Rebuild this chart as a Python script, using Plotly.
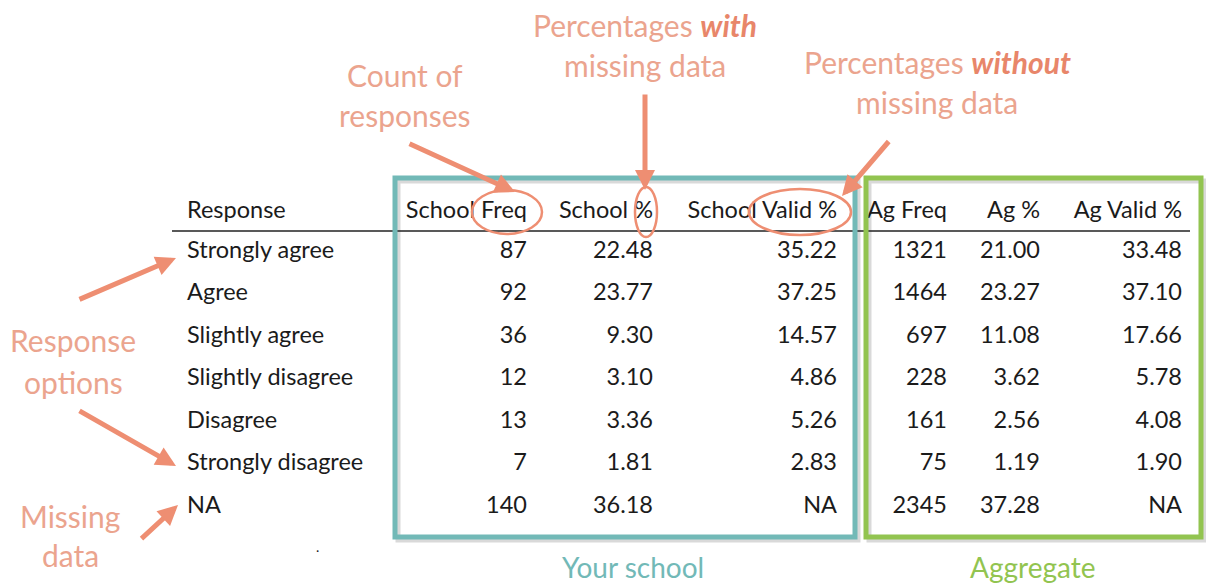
import plotly.graph_objects as go

responses = ["Strongly agree", "Agree", "Slightly agree", "Slightly disagree",
             "Disagree", "Strongly disagree", "NA"]
school_freq = [87, 92, 36, 12, 13, 7, 140]
school_pct = [22.48, 23.77, 9.30, 3.10, 3.36, 1.81, 36.18]
school_valid = [35.22, 37.25, 14.57, 4.86, 5.26, 2.83, None]
ag_freq = [1321, 1464, 697, 228, 161, 75, 2345]
ag_pct = [21.00, 23.27, 11.08, 3.62, 2.56, 1.19, 37.28]
ag_valid = [33.48, 37.10, 17.66, 5.78, 4.08, 1.90, None]
headers = ["School Freq", "School %", "School Valid %", "Ag Freq", "Ag %", "Ag Valid %"]

W, H = 1206, 584
SALMON = "#ee8e72"
SALMON_TXT = "#eba48e"
TEAL = "#72b9b7"
GREEN = "#92c450"
INK = "#1b1b1b"
FONT = "Lato"
TSIZE = 23.5

# pixel layout (page coordinates)
row_y = [252 + 42.5 * i for i in range(len(responses))]
header_y = 212
label_x = 187
col_right = [527, 653, 837, 947, 1040, 1182]


def fmt(v, dec):
    if v is None:
        return "NA"
    return f"{v:.{dec}f}" if dec else str(v)


columns = [
    [fmt(v, 0) for v in school_freq],
    [fmt(v, 2) for v in school_pct],
    [fmt(v, 2) for v in school_valid],
    [fmt(v, 0) for v in ag_freq],
    [fmt(v, 2) for v in ag_pct],
    [fmt(v, 2) for v in ag_valid],
]

fig = go.Figure()

# row labels + header
fig.add_trace(go.Scatter(
    x=[label_x] * (len(responses) + 1), y=[header_y] + row_y,
    text=["Response"] + responses, mode="text", textposition="middle right",
    textfont=dict(family=FONT, size=TSIZE, color=INK), hoverinfo="skip"))

# numeric columns, right aligned
for cx, hdr, vals in zip(col_right, headers, columns):
    fig.add_trace(go.Scatter(
        x=[cx] * (len(vals) + 1), y=[header_y] + row_y,
        text=[hdr] + vals, mode="text", textposition="middle left",
        textfont=dict(family=FONT, size=TSIZE, color=INK), hoverinfo="skip"))

shapes = []
# header underline
shapes.append(dict(type="line", x0=172, x1=1190, y0=231, y1=231,
                   line=dict(color="#222", width=1.3)))
# group boxes with soft shadow
for (x0, x1), col in [((395, 855), TEAL), ((866, 1201), GREEN)]:
    shapes.append(dict(type="rect", x0=x0 + 3, x1=x1 + 3, y0=181, y1=540,
                       line=dict(color="rgba(0,0,0,0.15)", width=5), layer="below"))
    shapes.append(dict(type="rect", x0=x0, x1=x1, y0=178, y1=537,
                       line=dict(color=col, width=5)))
# ellipses around headers
for cx, cy, rx, ry in [(507, 212, 35, 22), (646, 212, 11, 25), (800, 212, 51, 23)]:
    shapes.append(dict(type="circle", x0=cx - rx, x1=cx + rx, y0=cy - ry, y1=cy + ry,
                       line=dict(color=SALMON, width=2.5)))

anns = []


def label(x, y, txt, color=SALMON_TXT, size=30):
    anns.append(dict(x=x, y=y, text=txt, showarrow=False, xanchor="center",
                     yanchor="middle", font=dict(family=FONT, size=size, color=color)))


label(405, 75, "Count of")
label(405, 115, "responses")
label(645, 25, "Percentages <b><i style='color:#e8866a'>with</i></b>")
label(645, 65, "missing data")
label(937, 62, "Percentages <b><i style='color:#e8866a'>without</i></b>")
label(937, 102, "missing data")
label(73, 340, "Response")
label(73, 382, "options")
label(70, 516, "Missing")
label(70, 555, "data")
label(633, 567, "Your school", TEAL, 28)
label(1032, 567, "Aggregate", GREEN, 28)
anns.append(dict(x=317, y=546, text=".", showarrow=False,
                 font=dict(family=FONT, size=14, color=INK)))

# arrows: (tail) -> (head)
for (tx, ty), (hx, hy) in [((408, 143), (515, 192)),
                           ((645, 93), (645, 190)),
                           ((890, 140), (842, 196)),
                           ((78, 300), (176, 258)),
                           ((78, 410), (176, 466)),
                           ((140, 540), (178, 505))]:
    anns.append(dict(x=hx, y=hy, ax=tx, ay=ty, xref="x", yref="y", axref="x", ayref="y",
                     text="", showarrow=True, arrowhead=2, arrowsize=0.8,
                     arrowwidth=5, arrowcolor=SALMON))

fig.update_layout(
    width=W, height=H, margin=dict(l=0, r=0, t=0, b=0),
    paper_bgcolor="white", plot_bgcolor="white", showlegend=False,
    xaxis=dict(range=[0, W], visible=False, fixedrange=True),
    yaxis=dict(range=[H, 0], visible=False, fixedrange=True),
    shapes=shapes, annotations=anns,
)

# drop the default body margin so the figure fills the window exactly
fig.write_html("out.html", config={"displayModeBar": False},
               post_script="document.body.style.margin='0';document.body.style.overflow='hidden';")
